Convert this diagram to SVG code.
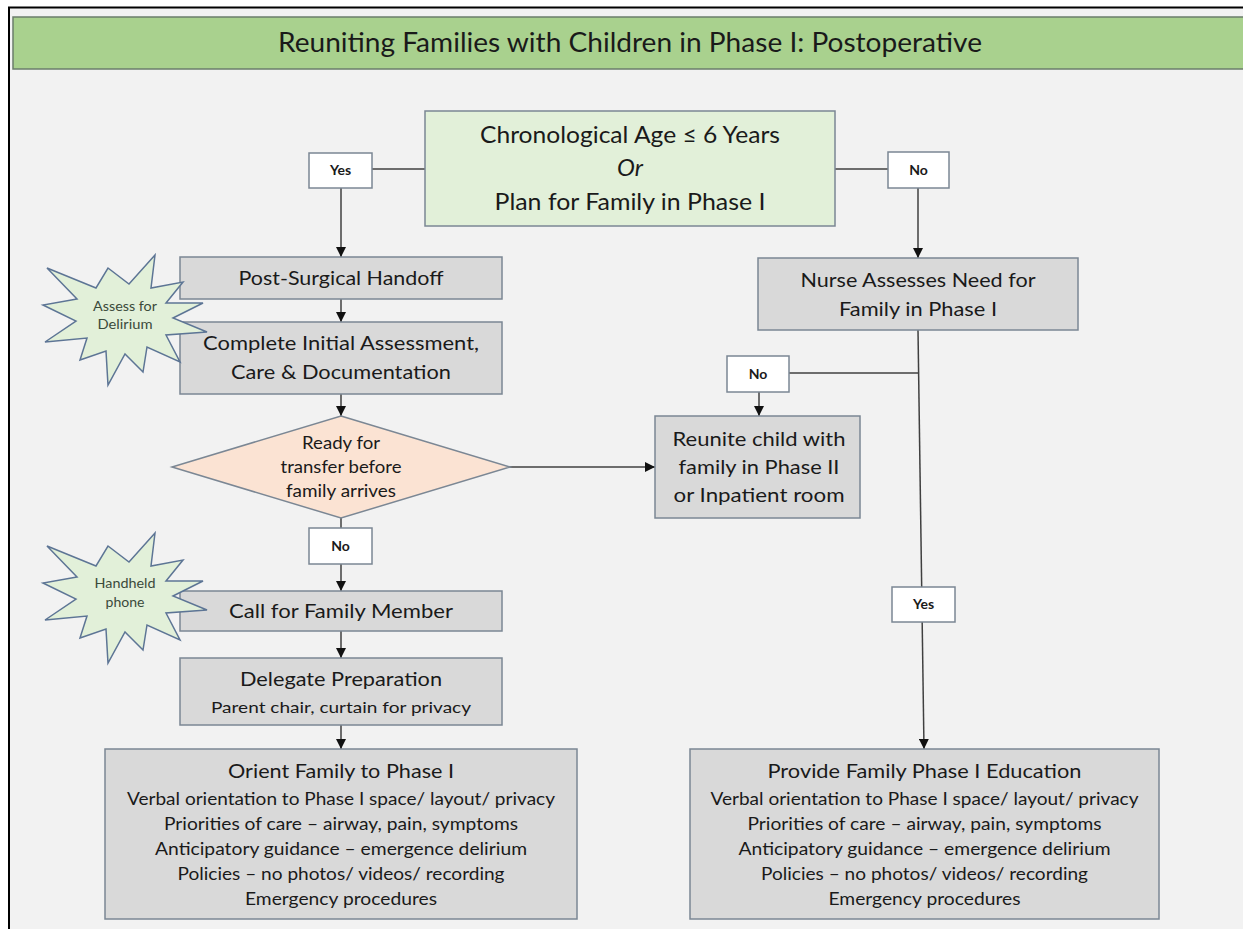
<svg xmlns="http://www.w3.org/2000/svg" width="1243" height="929" viewBox="0 0 1243 929">
<defs>
<style>
.t{font-family:Lato,"Open Sans","Liberation Sans",sans-serif;fill:#1a1a1a;text-anchor:middle}
.b{stroke:#7b8794;stroke-width:1.5}
.g{fill:#d9d9d9}
.w{fill:#ffffff}
.lb{font-family:Lato,"Liberation Sans",sans-serif;font-weight:bold;font-size:14px;fill:#1a1a1a;text-anchor:middle}
.c{stroke:#404040;stroke-width:1.5;fill:none}
.st{fill:#e2f0d9;stroke:#5d7595;stroke-width:1.5}
.sx{font-family:Lato,"Liberation Sans",sans-serif;font-size:13px;fill:#3b4a3b;text-anchor:middle}
</style>
<marker id="ah" viewBox="0 0 10 10" refX="10" refY="5" markerWidth="10" markerHeight="10" markerUnits="userSpaceOnUse" orient="auto">
<path d="M0,0 L10,5 L0,10 z" fill="#111"/>
</marker>
<polygon id="star" points="155,255 151,288 183,282 166,303 203,303 173,318 207,332 166,335 180,362 147,347 143,372 125,354 108,385 106,351 80,360 87,338 45,342 76,321 43,305 77,299 47,268 96,288 108,268 129,284"/>
</defs>
<rect x="0" y="0" width="1243" height="929" fill="#ffffff"/>
<rect x="9" y="7.5" width="1240" height="930" fill="#f2f2f2" stroke="#000" stroke-width="2"/>

<g id="title">
<rect x="13" y="17" width="1240" height="52" fill="#a9d18e" stroke="#6b7d6b" stroke-width="1.5"/>
<text class="t" x="630" y="52" font-size="26" textLength="704" lengthAdjust="spacingAndGlyphs">Reuniting Families with Children in Phase I: Postoperative</text>
</g>

<g id="connectors">
<line class="c" x1="372" y1="169" x2="425" y2="169"/>
<line class="c" x1="341" y1="188" x2="341" y2="257" marker-end="url(#ah)"/>
<line class="c" x1="835" y1="169" x2="888" y2="169"/>
<line class="c" x1="918" y1="188" x2="918" y2="258" marker-end="url(#ah)"/>
<line class="c" x1="341" y1="299" x2="341" y2="322" marker-end="url(#ah)"/>
<line class="c" x1="341" y1="394" x2="341" y2="416" marker-end="url(#ah)"/>
<line class="c" x1="510" y1="467" x2="655" y2="467" marker-end="url(#ah)"/>
<line class="c" x1="341" y1="518" x2="341" y2="528"/>
<line class="c" x1="341" y1="564" x2="341" y2="591" marker-end="url(#ah)"/>
<line class="c" x1="341" y1="631" x2="341" y2="658" marker-end="url(#ah)"/>
<line class="c" x1="341" y1="725" x2="341" y2="749" marker-end="url(#ah)"/>
<line class="c" x1="918" y1="330" x2="924" y2="749" marker-end="url(#ah)"/>
<line class="c" x1="789" y1="373" x2="918" y2="373"/>
<line class="c" x1="759" y1="392" x2="759" y2="416" marker-end="url(#ah)"/>
</g>

<g id="decision-age">
<rect class="b" x="425" y="111" width="410" height="115" fill="#e2f0d9"/>
<text class="t" x="630" y="143" font-size="24" textLength="300" lengthAdjust="spacingAndGlyphs">Chronological Age ≤ 6 Years</text>
<text class="t" x="630" y="176" font-size="24" font-style="italic">Or</text>
<text class="t" x="630" y="210" font-size="24" textLength="271" lengthAdjust="spacingAndGlyphs">Plan for Family in Phase I</text>
</g>

<g id="label-yes1"><rect class="b w" x="309" y="153" width="63" height="35"/><text class="lb" x="340.5" y="175">Yes</text></g>
<g id="label-no1"><rect class="b w" x="888" y="152" width="61" height="36"/><text class="lb" x="918.5" y="175">No</text></g>

<g id="post-surgical"><rect class="b g" x="180" y="257" width="322" height="42"/>
<text class="t" x="341" y="285" font-size="20" textLength="205" lengthAdjust="spacingAndGlyphs">Post-Surgical Handoff</text></g>

<g id="initial-assessment"><rect class="b g" x="180" y="322" width="322" height="72"/>
<text class="t" x="341" y="350" font-size="20" textLength="276" lengthAdjust="spacingAndGlyphs">Complete Initial Assessment,</text>
<text class="t" x="341" y="379" font-size="20" textLength="220" lengthAdjust="spacingAndGlyphs">Care &amp; Documentation</text></g>

<g id="star-delirium"><use href="#star" class="st"/>
<text class="sx" x="125" y="311" textLength="64" lengthAdjust="spacingAndGlyphs">Assess for</text>
<text class="sx" x="125" y="329" textLength="55" lengthAdjust="spacingAndGlyphs">Delirium</text></g>

<g id="decision-ready"><polygon class="b" points="341,416 510,467 341,518 172,467" fill="#fbe3d3"/>
<text class="t" x="341" y="449" font-size="17" textLength="78" lengthAdjust="spacingAndGlyphs">Ready for</text>
<text class="t" x="341" y="473" font-size="17" textLength="121" lengthAdjust="spacingAndGlyphs">transfer before</text>
<text class="t" x="341" y="497" font-size="17" textLength="110" lengthAdjust="spacingAndGlyphs">family arrives</text></g>

<g id="reunite"><rect class="b g" x="655" y="416" width="205" height="102"/>
<text class="t" x="759" y="446" font-size="20" textLength="173" lengthAdjust="spacingAndGlyphs">Reunite child with</text>
<text class="t" x="759" y="474" font-size="20" textLength="161" lengthAdjust="spacingAndGlyphs">family in Phase II</text>
<text class="t" x="759" y="502" font-size="20" textLength="171" lengthAdjust="spacingAndGlyphs">or Inpatient room</text></g>

<g id="nurse-assesses"><rect class="b g" x="758" y="258" width="320" height="72"/>
<text class="t" x="918" y="287" font-size="20" textLength="235" lengthAdjust="spacingAndGlyphs">Nurse Assesses Need for</text>
<text class="t" x="918" y="316" font-size="20" textLength="158" lengthAdjust="spacingAndGlyphs">Family in Phase I</text></g>

<g id="label-no2"><rect class="b w" x="727" y="356" width="62" height="36"/><text class="lb" x="758" y="379">No</text></g>
<g id="label-no3"><rect class="b w" x="309" y="528" width="63" height="36"/><text class="lb" x="340.5" y="551">No</text></g>
<g id="label-yes2"><rect class="b w" x="892" y="587" width="63" height="35"/><text class="lb" x="923.5" y="609">Yes</text></g>

<g id="call-family"><rect class="b g" x="180" y="591" width="322" height="40"/>
<text class="t" x="341" y="618" font-size="20" textLength="224" lengthAdjust="spacingAndGlyphs">Call for Family Member</text></g>

<g id="star-phone"><use href="#star" class="st" transform="translate(0,278)"/>
<text class="sx" x="125" y="588" textLength="61" lengthAdjust="spacingAndGlyphs">Handheld</text>
<text class="sx" x="125" y="607" textLength="39" lengthAdjust="spacingAndGlyphs">phone</text></g>

<g id="delegate"><rect class="b g" x="180" y="658" width="322" height="67"/>
<text class="t" x="341" y="686" font-size="20" textLength="202" lengthAdjust="spacingAndGlyphs">Delegate Preparation</text>
<text class="t" x="341" y="713" font-size="16" fill="#333" textLength="260" lengthAdjust="spacingAndGlyphs">Parent chair, curtain for privacy</text></g>

<g id="orient"><rect class="b g" x="105" y="749" width="472" height="170"/>
<text class="t" x="341" y="778" font-size="19" textLength="226" lengthAdjust="spacingAndGlyphs">Orient Family to Phase I</text>
<text class="t" x="341" y="805" font-size="17" textLength="428" lengthAdjust="spacingAndGlyphs">Verbal orientation to Phase I space/ layout/ privacy</text>
<text class="t" x="341" y="830" font-size="17" textLength="354" lengthAdjust="spacingAndGlyphs">Priorities of care – airway, pain, symptoms</text>
<text class="t" x="341" y="855" font-size="17" textLength="372" lengthAdjust="spacingAndGlyphs">Anticipatory guidance – emergence delirium</text>
<text class="t" x="341" y="880" font-size="17" textLength="327" lengthAdjust="spacingAndGlyphs">Policies – no photos/ videos/ recording</text>
<text class="t" x="341" y="905" font-size="17" textLength="192" lengthAdjust="spacingAndGlyphs">Emergency procedures</text></g>

<g id="provide"><rect class="b g" x="690" y="749" width="469" height="170"/>
<text class="t" x="924.5" y="778" font-size="19" textLength="314" lengthAdjust="spacingAndGlyphs">Provide Family Phase I Education</text>
<text class="t" x="924.5" y="805" font-size="17" textLength="428" lengthAdjust="spacingAndGlyphs">Verbal orientation to Phase I space/ layout/ privacy</text>
<text class="t" x="924.5" y="830" font-size="17" textLength="354" lengthAdjust="spacingAndGlyphs">Priorities of care – airway, pain, symptoms</text>
<text class="t" x="924.5" y="855" font-size="17" textLength="372" lengthAdjust="spacingAndGlyphs">Anticipatory guidance – emergence delirium</text>
<text class="t" x="924.5" y="880" font-size="17" textLength="327" lengthAdjust="spacingAndGlyphs">Policies – no photos/ videos/ recording</text>
<text class="t" x="924.5" y="905" font-size="17" textLength="192" lengthAdjust="spacingAndGlyphs">Emergency procedures</text></g>
</svg>
